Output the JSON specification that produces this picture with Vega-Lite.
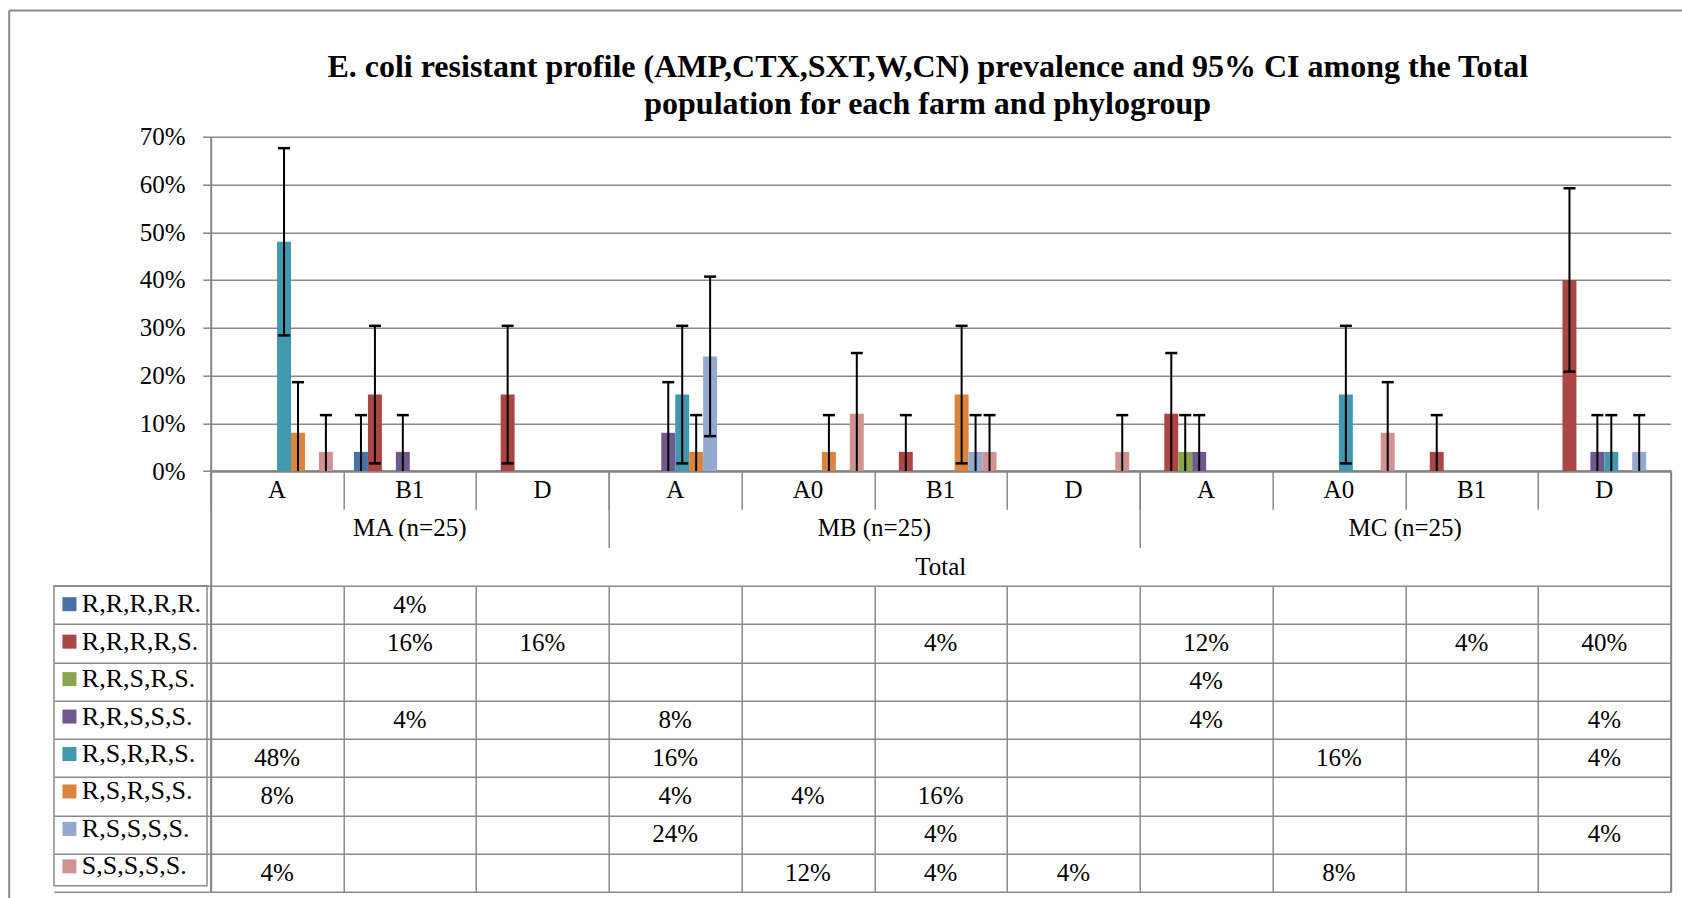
{
  "$schema": "https://vega.github.io/schema/vega-lite/v6.json",
  "width": 1460,
  "height": 334.3,
  "autosize": "none",
  "padding": {"left": 210.7, "top": 136.7, "right": 11.3, "bottom": 427},
  "background": "white",
  "title": {
    "text": ["E. coli resistant profile (AMP,CTX,SXT,W,CN) prevalence and 95% CI among the Total", "population for each farm and phylogroup"],
    "font": "Liberation Serif", "fontSize": 32, "fontWeight": "bold", "color": "black",
    "lineHeight": 37, "anchor": "middle", "frame": "group", "baseline": "alphabetic", "offset": 25, "dx": -13, "dy": 166.5
  },
  "datasets": {
    "cats": [
      {"cat": "MA (n=25)|A", "grp": "A"},
      {"cat": "MA (n=25)|B1", "grp": "B1"},
      {"cat": "MA (n=25)|D", "grp": "D"},
      {"cat": "MB (n=25)|A", "grp": "A"},
      {"cat": "MB (n=25)|A0", "grp": "A0"},
      {"cat": "MB (n=25)|B1", "grp": "B1"},
      {"cat": "MB (n=25)|D", "grp": "D"},
      {"cat": "MC (n=25)|A", "grp": "A"},
      {"cat": "MC (n=25)|A0", "grp": "A0"},
      {"cat": "MC (n=25)|B1", "grp": "B1"},
      {"cat": "MC (n=25)|D", "grp": "D"}
    ],
    "main": [
      {"cat": "MA (n=25)|A", "series": "R,S,R,R,S.", "value": 0.48, "lo": 0.284, "hi": 0.676},
      {"cat": "MA (n=25)|A", "series": "R,S,R,S,S.", "value": 0.08, "lo": 0, "hi": 0.186},
      {"cat": "MA (n=25)|A", "series": "S,S,S,S,S.", "value": 0.04, "lo": 0, "hi": 0.117},
      {"cat": "MA (n=25)|B1", "series": "R,R,R,R,R.", "value": 0.04, "lo": 0, "hi": 0.117},
      {"cat": "MA (n=25)|B1", "series": "R,R,R,R,S.", "value": 0.16, "lo": 0.016, "hi": 0.304},
      {"cat": "MA (n=25)|B1", "series": "R,R,S,S,S.", "value": 0.04, "lo": 0, "hi": 0.117},
      {"cat": "MA (n=25)|D", "series": "R,R,R,R,S.", "value": 0.16, "lo": 0.016, "hi": 0.304},
      {"cat": "MB (n=25)|A", "series": "R,R,S,S,S.", "value": 0.08, "lo": 0, "hi": 0.186},
      {"cat": "MB (n=25)|A", "series": "R,S,R,R,S.", "value": 0.16, "lo": 0.016, "hi": 0.304},
      {"cat": "MB (n=25)|A", "series": "R,S,R,S,S.", "value": 0.04, "lo": 0, "hi": 0.117},
      {"cat": "MB (n=25)|A", "series": "R,S,S,S,S.", "value": 0.24, "lo": 0.073, "hi": 0.407},
      {"cat": "MB (n=25)|A0", "series": "R,S,R,S,S.", "value": 0.04, "lo": 0, "hi": 0.117},
      {"cat": "MB (n=25)|A0", "series": "S,S,S,S,S.", "value": 0.12, "lo": 0, "hi": 0.247},
      {"cat": "MB (n=25)|B1", "series": "R,R,R,R,S.", "value": 0.04, "lo": 0, "hi": 0.117},
      {"cat": "MB (n=25)|B1", "series": "R,S,R,S,S.", "value": 0.16, "lo": 0.016, "hi": 0.304},
      {"cat": "MB (n=25)|B1", "series": "R,S,S,S,S.", "value": 0.04, "lo": 0, "hi": 0.117},
      {"cat": "MB (n=25)|B1", "series": "S,S,S,S,S.", "value": 0.04, "lo": 0, "hi": 0.117},
      {"cat": "MB (n=25)|D", "series": "S,S,S,S,S.", "value": 0.04, "lo": 0, "hi": 0.117},
      {"cat": "MC (n=25)|A", "series": "R,R,R,R,S.", "value": 0.12, "lo": 0, "hi": 0.247},
      {"cat": "MC (n=25)|A", "series": "R,R,S,R,S.", "value": 0.04, "lo": 0, "hi": 0.117},
      {"cat": "MC (n=25)|A", "series": "R,R,S,S,S.", "value": 0.04, "lo": 0, "hi": 0.117},
      {"cat": "MC (n=25)|A0", "series": "R,S,R,R,S.", "value": 0.16, "lo": 0.016, "hi": 0.304},
      {"cat": "MC (n=25)|A0", "series": "S,S,S,S,S.", "value": 0.08, "lo": 0, "hi": 0.186},
      {"cat": "MC (n=25)|B1", "series": "R,R,R,R,S.", "value": 0.04, "lo": 0, "hi": 0.117},
      {"cat": "MC (n=25)|D", "series": "R,R,R,R,S.", "value": 0.40, "lo": 0.208, "hi": 0.592},
      {"cat": "MC (n=25)|D", "series": "R,R,S,S,S.", "value": 0.04, "lo": 0, "hi": 0.117},
      {"cat": "MC (n=25)|D", "series": "R,S,R,R,S.", "value": 0.04, "lo": 0, "hi": 0.117},
      {"cat": "MC (n=25)|D", "series": "R,S,S,S,S.", "value": 0.04, "lo": 0, "hi": 0.117}
    ]
  },
  "layer": [
    {
      "data": {"name": "main"},
      "layer": [
        {
          "mark": {"type": "bar"},
          "encoding": {
            "x": {
              "field": "cat", "type": "nominal",
              "scale": {"domain": ["MA (n=25)|A", "MA (n=25)|B1", "MA (n=25)|D", "MB (n=25)|A", "MB (n=25)|A0", "MB (n=25)|B1", "MB (n=25)|D", "MC (n=25)|A", "MC (n=25)|A0", "MC (n=25)|B1", "MC (n=25)|D"], "paddingInner": 0, "paddingOuter": 0},
              "axis": {"title": null, "orient": "bottom", "labels": false, "grid": false, "domain": true, "domainColor": "#858585", "domainWidth": 2.5, "ticks": true, "tickBand": "extent", "tickSize": 38.3, "tickColor": "#8a8a8a", "tickWidth": 1.5}
            },
            "xOffset": {
              "field": "series", "type": "nominal",
              "scale": {"domain": ["R,R,R,R,R.", "R,R,R,R,S.", "R,R,S,R,S.", "R,R,S,S,S.", "R,S,R,R,S.", "R,S,R,S,S.", "R,S,S,S,S.", "S,S,S,S,S."], "paddingInner": 0, "paddingOuter": 0.757}
            },
            "y": {
              "field": "value", "type": "quantitative",
              "scale": {"domain": [0, 0.7], "nice": false},
              "axis": {"title": null, "orient": "left", "values": [0, 0.1, 0.2, 0.3, 0.4, 0.5, 0.6, 0.7], "format": ".0%", "grid": true, "gridColor": "#8a8a8a", "gridWidth": 1.5, "domain": true, "domainColor": "#858585", "domainWidth": 2, "ticks": true, "tickSize": 8, "tickColor": "#858585", "tickWidth": 1.5, "labelFont": "Liberation Serif", "labelFontSize": 25, "labelColor": "black", "labelPadding": 17.7}
            },
            "color": {
              "field": "series", "type": "nominal",
              "scale": {"domain": ["R,R,R,R,R.", "R,R,R,R,S.", "R,R,S,R,S.", "R,R,S,S,S.", "R,S,R,R,S.", "R,S,R,S,S.", "R,S,S,S,S.", "S,S,S,S,S."], "range": ["#4572A7", "#AA4643", "#89A54E", "#71588F", "#4198AF", "#DB843D", "#93A9CF", "#D19392"]},
              "legend": {"orient": "none", "legendX": -156.7, "legendY": 449.05, "title": null, "symbolType": "square", "symbolSize": 196, "symbolStrokeWidth": 0, "symbolOpacity": 1, "symbolOffset": -3, "labelFont": "Liberation Serif", "labelFontSize": 26, "labelColor": "black", "labelOffset": -0.6, "rowPadding": 11.45, "labelLimit": 300}
            }
          }
        },
        {
          "mark": {"type": "rule", "color": "black", "strokeWidth": 2},
          "encoding": {
            "x": {"field": "cat", "type": "nominal"},
            "xOffset": {"field": "series", "type": "nominal"},
            "y": {"field": "lo", "type": "quantitative"},
            "y2": {"field": "hi"}
          }
        },
        {
          "mark": {"type": "tick", "orient": "horizontal", "color": "black", "size": 12, "thickness": 2.5, "opacity": 1},
          "encoding": {
            "x": {"field": "cat", "type": "nominal"},
            "xOffset": {"field": "series", "type": "nominal"},
            "y": {"field": "hi", "type": "quantitative"}
          }
        },
        {
          "transform": [{"filter": "datum.lo > 0"}],
          "mark": {"type": "tick", "orient": "horizontal", "color": "black", "size": 12, "thickness": 2.5, "opacity": 1},
          "encoding": {
            "x": {"field": "cat", "type": "nominal"},
            "xOffset": {"field": "series", "type": "nominal"},
            "y": {"field": "lo", "type": "quantitative"}
          }
        }
      ]
    },
    {
      "layer": [
        {
          "data": {"name": "main"},
          "mark": {"type": "text", "font": "Liberation Serif", "fontSize": 25, "color": "black", "baseline": "middle", "align": "center"},
          "encoding": {
            "x": {
              "field": "cat", "type": "nominal",
              "scale": {"domain": ["MA (n=25)|A", "MA (n=25)|B1", "MA (n=25)|D", "MB (n=25)|A", "MB (n=25)|A0", "MB (n=25)|B1", "MB (n=25)|D", "MC (n=25)|A", "MC (n=25)|A0", "MC (n=25)|B1", "MC (n=25)|D"], "paddingInner": 0, "paddingOuter": 0},
              "axis": {"title": null, "orient": "bottom", "offset": 420.7, "labels": false, "grid": false, "domain": false, "ticks": true, "tickBand": "extent", "tickSize": -305.95, "tickColor": "#8a8a8a", "tickWidth": 1.5}
            },
            "y": {
              "field": "series", "type": "nominal",
              "scale": {"domain": ["grp", "farm", "total", "R,R,R,R,R.", "R,R,R,R,S.", "R,R,S,R,S.", "R,R,S,S,S.", "R,S,R,R,S.", "R,S,R,S,S.", "R,S,S,S,S.", "S,S,S,S,S."], "range": [334.3, 755], "paddingInner": 0, "paddingOuter": 0},
              "axis": {
                "title": null, "orient": "left", "labels": false,
                "domain": true, "domainColor": "#858585", "domainWidth": 2,
                "ticks": true, "tickBand": "extent", "tickSize": 156.7, "tickColor": "#8a8a8a", "tickWidth": 1.5,
                "tickOpacity": {"condition": {"test": "isValid(datum.value) && datum.value !== 'grp' && datum.value !== 'farm'", "value": 1}, "value": 0},
                "grid": true, "gridColor": "#8a8a8a", "gridWidth": 1.5,
                "gridOpacity": {"condition": {"test": "datum.value === 'grp' || datum.value === 'farm'", "value": 0}, "value": 1}
              }
            },
            "text": {"field": "value", "type": "quantitative", "format": ".0%"}
          }
        },
        {
          "data": {"name": "cats"},
          "mark": {"type": "text", "font": "Liberation Serif", "fontSize": 25, "color": "black", "baseline": "middle", "align": "center"},
          "encoding": {
            "x": {"field": "cat", "type": "nominal"},
            "y": {"datum": "grp", "type": "nominal"},
            "text": {"field": "grp"}
          }
        }
      ]
    },
    {
      "layer": [
        {
          "data": {"values": [{"farm": "MA (n=25)", "mid": "MA (n=25)|B1"}]},
          "mark": {"type": "text", "font": "Liberation Serif", "fontSize": 25, "color": "black", "baseline": "middle", "align": "center"},
          "encoding": {
            "x": {
              "field": "mid", "type": "nominal", "bandPosition": 0.5,
              "scale": {"domain": ["MA (n=25)|A", "MA (n=25)|B1", "MA (n=25)|D", "MB (n=25)|A", "MB (n=25)|A0", "MB (n=25)|B1", "MB (n=25)|D", "MC (n=25)|A", "MC (n=25)|A0", "MC (n=25)|B1", "MC (n=25)|D"], "paddingInner": 0, "paddingOuter": 0},
              "axis": {"title": null, "orient": "bottom", "values": ["MA (n=25)|D", "MB (n=25)|D"], "tickBand": "extent", "labels": false, "grid": false, "domain": false, "ticks": true, "tickSize": 76.5, "tickColor": "#8a8a8a", "tickWidth": 1.5, "tickOpacity": {"condition": {"test": "isValid(datum.value)", "value": 1}, "value": 0}}
            },
            "y": {
              "datum": "farm", "type": "nominal",
              "scale": {"domain": ["grp", "farm", "total", "R,R,R,R,R.", "R,R,R,R,S.", "R,R,S,R,S.", "R,R,S,S,S.", "R,S,R,R,S.", "R,S,R,S,S.", "R,S,S,S,S.", "S,S,S,S,S."], "range": [334.3, 755], "paddingInner": 0, "paddingOuter": 0},
              "axis": {"title": null, "orient": "right", "labels": false, "ticks": false, "grid": false, "domain": true, "domainColor": "#858585", "domainWidth": 2}
            },
            "text": {"field": "farm"}
          }
        },
        {
          "data": {"values": [{"farm": "MB (n=25)", "mid": "MB (n=25)|A0"}, {"farm": "MC (n=25)", "mid": "MC (n=25)|A0"}]},
          "mark": {"type": "text", "font": "Liberation Serif", "fontSize": 25, "color": "black", "baseline": "middle", "align": "center"},
          "encoding": {
            "x": {"field": "mid", "type": "nominal", "bandPosition": 1},
            "y": {"datum": "farm", "type": "nominal"},
            "text": {"field": "farm"}
          }
        },
        {
          "data": {"values": [{"label": "Total", "mid": "MB (n=25)|B1"}]},
          "mark": {"type": "text", "font": "Liberation Serif", "fontSize": 25, "color": "black", "baseline": "middle", "align": "center"},
          "encoding": {
            "x": {"field": "mid", "type": "nominal", "bandPosition": 0.5},
            "y": {"datum": "total", "type": "nominal"},
            "text": {"field": "label"}
          }
        }
      ]
    },
    {
      "data": {"values": [{"label": ""}]},
      "mark": {"type": "text"},
      "encoding": {
        "x": {"datum": 0, "type": "quantitative", "scale": {"domain": [0, 1], "range": [-202, 1700]}, "axis": {"orient": "top", "offset": 126.7, "title": null, "labels": false, "ticks": false, "grid": false, "domain": true, "domainColor": "#8a8a8a", "domainWidth": 2}},
        "y": {"datum": 0, "type": "quantitative", "scale": {"domain": [0, 1], "range": [-126.7, 800]}, "axis": {"orient": "left", "offset": 202, "title": null, "labels": false, "ticks": false, "grid": false, "domain": true, "domainColor": "#8a8a8a", "domainWidth": 2}},
        "text": {"field": "label"}
      }
    }
  ],
  "resolve": {
    "scale": {"x": "independent", "y": "independent"},
    "axis": {"x": "independent", "y": "independent"}
  },
  "config": {
    "view": {"stroke": null},
    "font": "Liberation Serif",
    "legend": {"strokeColor": "#8a8a8a", "strokeWidth": 1.5, "padding": 5.45}
  }
}
